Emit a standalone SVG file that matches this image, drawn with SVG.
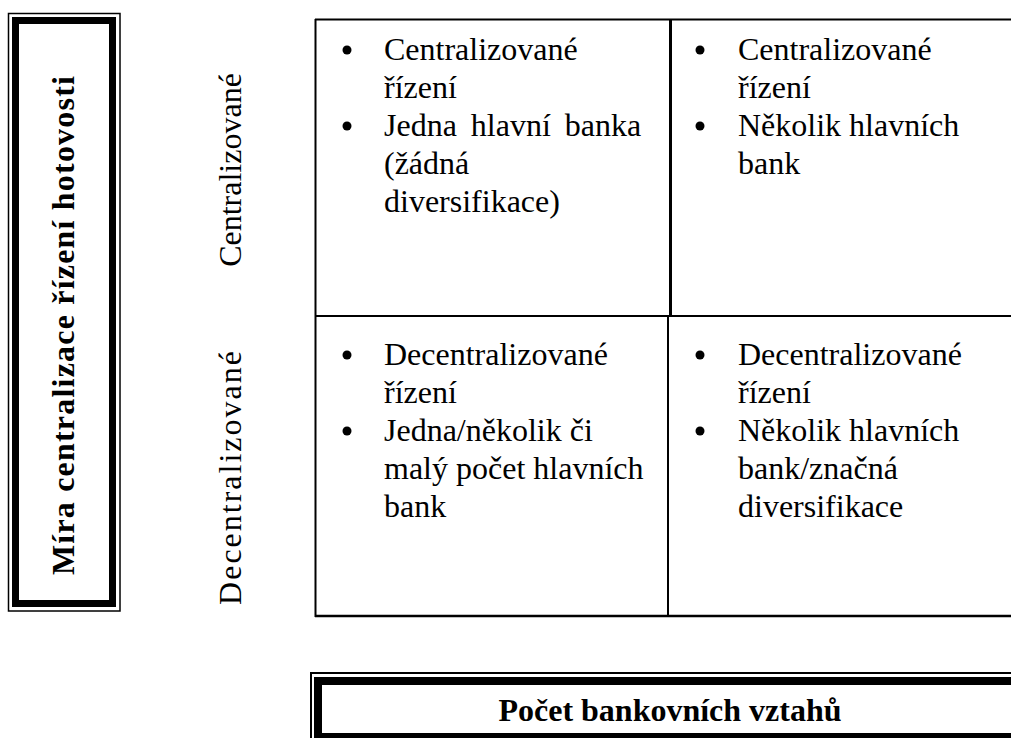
<svg xmlns="http://www.w3.org/2000/svg" width="1011" height="738" viewBox="0 0 1011 738">
<style>
.t{font-family:"Liberation Serif","Times New Roman",serif;font-size:32px;fill:#000}
.b{font-family:"Liberation Serif","Times New Roman",serif;font-size:32px;font-weight:bold;fill:#000}
.ln{stroke:#000;fill:none}
</style>
<rect width="1011" height="738" fill="#fff"/>
<g id="axis-y">
<rect x="8.5" y="13.5" width="111.5" height="597.5" class="ln" stroke-width="1.5"/>
<rect x="15.5" y="20.5" width="97" height="583" class="ln" stroke-width="7"/>
<text class="b" transform="translate(74,325) rotate(-90)" text-anchor="middle" letter-spacing="1.2">Míra centralizace řízení hotovosti</text>
</g>
<g id="label-centralized">
<text class="t" transform="translate(241,170) rotate(-90)" text-anchor="middle">Centralizované</text>
</g>
<g id="label-decentralized">
<text class="t" transform="translate(241,477) rotate(-90)" text-anchor="middle" letter-spacing="2">Decentralizované</text>
</g>
<g id="grid">
<line x1="315" y1="19.5" x2="1011" y2="19.5" class="ln" stroke-width="2"/>
<line x1="315.5" y1="19" x2="315.5" y2="617" class="ln" stroke-width="2"/>
<line x1="315" y1="316" x2="1011" y2="316" class="ln" stroke-width="2"/>
<line x1="315" y1="616" x2="1011" y2="616" class="ln" stroke-width="2.5"/>
<line x1="670.5" y1="19" x2="670.5" y2="316" class="ln" stroke-width="3"/>
<line x1="668" y1="316" x2="668" y2="616" class="ln" stroke-width="2"/>
</g>
<g id="cell-tl">
<circle cx="347" cy="50" r="4.5"/>
<text class="t" x="384" y="60">Centralizované</text>
<text class="t" x="384" y="98">řízení</text>
<circle cx="347" cy="126" r="4.5"/>
<text class="t" x="384" y="136" word-spacing="6">Jedna hlavní banka</text>
<text class="t" x="384" y="174">(žádná</text>
<text class="t" x="384" y="212">diversifikace)</text>
</g>
<g id="cell-tr">
<circle cx="700" cy="50" r="4.5"/>
<text class="t" x="738" y="60">Centralizované</text>
<text class="t" x="738" y="98">řízení</text>
<circle cx="700" cy="126" r="4.5"/>
<text class="t" x="738" y="136">Několik hlavních</text>
<text class="t" x="738" y="174">bank</text>
</g>
<g id="cell-bl">
<circle cx="347" cy="355" r="4.5"/>
<text class="t" x="384" y="365">Decentralizované</text>
<text class="t" x="384" y="403">řízení</text>
<circle cx="347" cy="431" r="4.5"/>
<text class="t" x="384" y="441">Jedna/několik či</text>
<text class="t" x="384" y="479">malý počet hlavních</text>
<text class="t" x="384" y="517">bank</text>
</g>
<g id="cell-br">
<circle cx="700" cy="355" r="4.5"/>
<text class="t" x="738" y="365">Decentralizované</text>
<text class="t" x="738" y="403">řízení</text>
<circle cx="700" cy="431" r="4.5"/>
<text class="t" x="738" y="441">Několik hlavních</text>
<text class="t" x="738" y="479">bank/značná</text>
<text class="t" x="738" y="517">diversifikace</text>
</g>
<g id="axis-x">
<rect x="311" y="673" width="720" height="80" class="ln" stroke-width="2"/>
<rect x="318" y="681" width="720" height="56" class="ln" stroke-width="8"/>
<text class="b" x="670" y="721" text-anchor="middle">Počet bankovních vztahů</text>
</g>
</svg>
